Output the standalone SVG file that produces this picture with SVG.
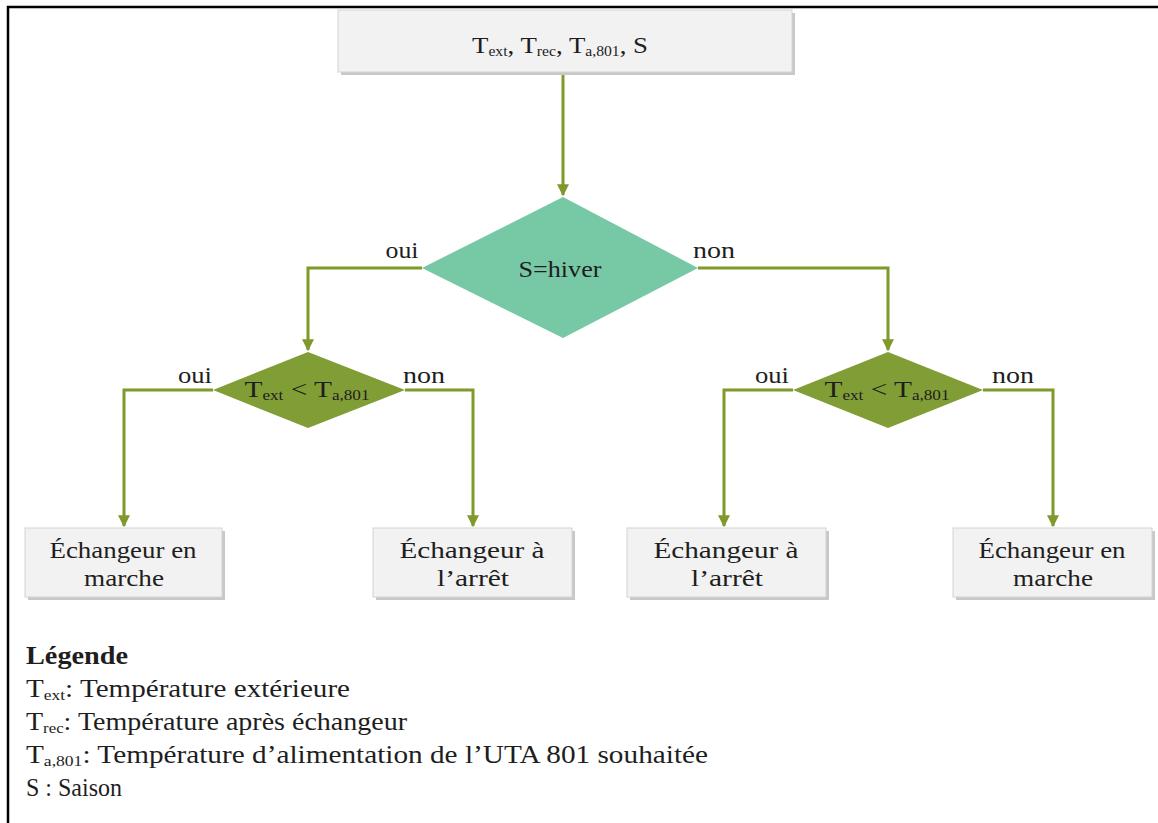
<svg xmlns="http://www.w3.org/2000/svg" width="1158" height="823" viewBox="0 0 1158 823" font-family="'Liberation Serif','Times New Roman',serif">
<style>
text{font-family:"Liberation Serif","Times New Roman",serif;fill:#1e1e1e}
.box{fill:#f2f2f2;stroke:#d4d4d4;stroke-width:1}
.sh{fill:#c8c8c8}
.ln{fill:none;stroke:#7e9a2b;stroke-width:3}
.lbl{font-size:23px;text-anchor:middle}
.bt{font-size:24px;text-anchor:middle}
.sub{font-size:14px}
.lsub{font-size:15px}
.leg{font-size:25px}
</style>
<defs>
<marker id="ah" viewBox="0 0 10 10" refX="9" refY="5" markerWidth="4" markerHeight="4" orient="auto" markerUnits="strokeWidth">
<path d="M0,0 L10,5 L0,10 z" fill="#7e9a2b"/>
</marker>
</defs>
<rect width="1158" height="823" fill="#fff"/>
<path d="M8,823 V7 H1158" fill="none" stroke="#000" stroke-width="2.5"/>
<g id="connectors">
<path class="ln" d="M563,73 V195" marker-end="url(#ah)"/>
<path class="ln" d="M422,268 H308 V350" marker-end="url(#ah)"/>
<path class="ln" d="M698,268 H888 V350" marker-end="url(#ah)"/>
<path class="ln" d="M213,390 H124 V526" marker-end="url(#ah)"/>
<path class="ln" d="M405,390 H473 V526" marker-end="url(#ah)"/>
<path class="ln" d="M793,390 H724 V526" marker-end="url(#ah)"/>
<path class="ln" d="M983,390 H1053 V526" marker-end="url(#ah)"/>
<text class="lbl" x="402" y="258" textLength="33" lengthAdjust="spacingAndGlyphs">oui</text>
<text class="lbl" x="714" y="258" textLength="42" lengthAdjust="spacingAndGlyphs">non</text>
<text class="lbl" x="195" y="383" textLength="34" lengthAdjust="spacingAndGlyphs">oui</text>
<text class="lbl" x="424" y="383" textLength="42" lengthAdjust="spacingAndGlyphs">non</text>
<text class="lbl" x="772" y="383" textLength="34" lengthAdjust="spacingAndGlyphs">oui</text>
<text class="lbl" x="1013" y="383" textLength="42" lengthAdjust="spacingAndGlyphs">non</text>
</g>
<g id="inputs">
<rect class="sh" x="341" y="13" width="454" height="62"/>
<rect class="box" x="338" y="10" width="454" height="62"/>
<text class="bt" x="560" y="53" textLength="176" lengthAdjust="spacingAndGlyphs">T<tspan class="sub" dy="3">ext</tspan><tspan dy="-3">, T</tspan><tspan class="sub" dy="3">rec</tspan><tspan dy="-3">, T</tspan><tspan class="sub" dy="3">a,801</tspan><tspan dy="-3">, S</tspan></text>
</g>
<g id="d-saison">
<polygon points="563,197 698,268 563,338 422,268" fill="#77c9a6"/>
<text class="bt" x="560" y="277" font-size="23" textLength="83" lengthAdjust="spacingAndGlyphs">S=hiver</text>
</g>
<g id="d-left">
<polygon points="308,352 405,390 308,428 213,390" fill="#819d36"/>
<text class="bt" x="307" y="397" font-size="22" textLength="125" lengthAdjust="spacingAndGlyphs">T<tspan class="sub" dy="3">ext</tspan><tspan dy="-3"> &lt; T</tspan><tspan class="sub" dy="3">a,801</tspan></text>
</g>
<g id="d-right">
<polygon points="888,352 983,390 888,428 793,390" fill="#819d36"/>
<text class="bt" x="887" y="397" font-size="22" textLength="125" lengthAdjust="spacingAndGlyphs">T<tspan class="sub" dy="3">ext</tspan><tspan dy="-3"> &lt; T</tspan><tspan class="sub" dy="3">a,801</tspan></text>
</g>
<g id="b1">
<rect class="sh" x="28" y="531" width="197" height="69"/>
<rect class="box" x="25" y="528" width="197" height="69"/>
<text class="bt" x="123" y="558" textLength="147" lengthAdjust="spacingAndGlyphs">Échangeur en</text>
<text class="bt" x="124" y="586" textLength="80" lengthAdjust="spacingAndGlyphs">marche</text>
</g>
<g id="b2">
<rect class="sh" x="376" y="531" width="199" height="69"/>
<rect class="box" x="373" y="528" width="199" height="69"/>
<text class="bt" x="472" y="558" textLength="145" lengthAdjust="spacingAndGlyphs">Échangeur à</text>
<text class="bt" x="473" y="586" textLength="72" lengthAdjust="spacingAndGlyphs">l’arrêt</text>
</g>
<g id="b3">
<rect class="sh" x="630" y="531" width="199" height="69"/>
<rect class="box" x="627" y="528" width="199" height="69"/>
<text class="bt" x="726" y="558" textLength="145" lengthAdjust="spacingAndGlyphs">Échangeur à</text>
<text class="bt" x="727" y="586" textLength="72" lengthAdjust="spacingAndGlyphs">l’arrêt</text>
</g>
<g id="b4">
<rect class="sh" x="956" y="531" width="199" height="69"/>
<rect class="box" x="953" y="528" width="199" height="69"/>
<text class="bt" x="1052" y="558" textLength="147" lengthAdjust="spacingAndGlyphs">Échangeur en</text>
<text class="bt" x="1053" y="586" textLength="80" lengthAdjust="spacingAndGlyphs">marche</text>
</g>
<g id="legend">
<text x="26" y="664" font-size="25" font-weight="bold" textLength="102" lengthAdjust="spacingAndGlyphs">Légende</text>
<text class="leg" x="26" y="697" textLength="324" lengthAdjust="spacingAndGlyphs">T<tspan class="lsub" dy="3">ext</tspan><tspan dy="-3">: Température extérieure</tspan></text>
<text class="leg" x="26" y="730" textLength="381" lengthAdjust="spacingAndGlyphs">T<tspan class="lsub" dy="3">rec</tspan><tspan dy="-3">: Température après échangeur</tspan></text>
<text class="leg" x="26" y="763" textLength="682" lengthAdjust="spacingAndGlyphs">T<tspan class="lsub" dy="3">a,801</tspan><tspan dy="-3">: Température d’alimentation de l’UTA 801 souhaitée</tspan></text>
<text class="leg" x="26" y="796" textLength="96" lengthAdjust="spacingAndGlyphs">S : Saison</text>
</g>
</svg>
